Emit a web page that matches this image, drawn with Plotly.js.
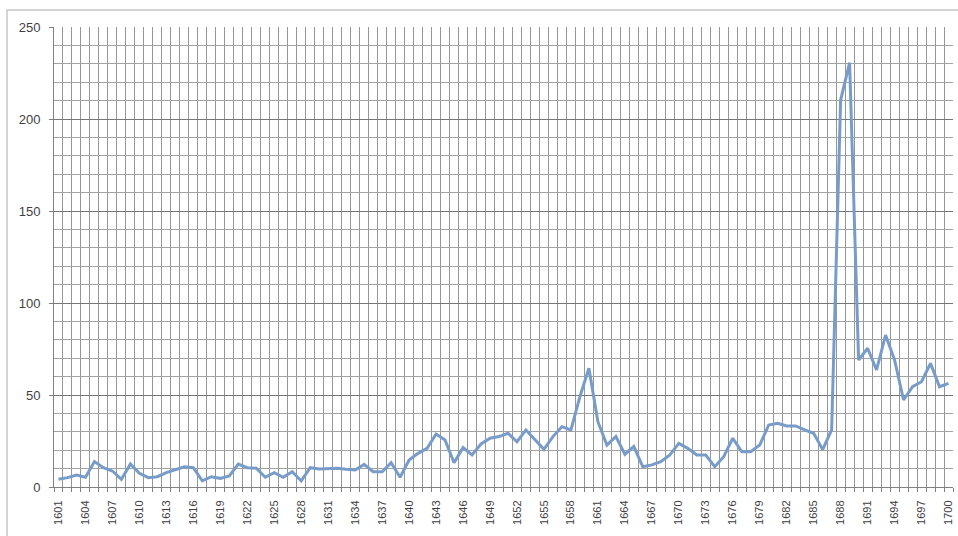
<!DOCTYPE html>
<html>
<head>
<meta charset="utf-8">
<script src="https://cdn.plot.ly/plotly-3.0.1.min.js"></script>
<style>
html,body{margin:0;padding:0;background:#fff;}
#chart{width:958px;height:536px;}
</style>
</head>
<body>
<div id="chart"></div>
<script>
const years = [1601,1602,1603,1604,1605,1606,1607,1608,1609,1610,
1611,1612,1613,1614,1615,1616,1617,1618,1619,1620,
1621,1622,1623,1624,1625,1626,1627,1628,1629,1630,
1631,1632,1633,1634,1635,1636,1637,1638,1639,1640,
1641,1642,1643,1644,1645,1646,1647,1648,1649,1650,
1651,1652,1653,1654,1655,1656,1657,1658,1659,1660,
1661,1662,1663,1664,1665,1666,1667,1668,1669,1670,
1671,1672,1673,1674,1675,1676,1677,1678,1679,1680,
1681,1682,1683,1684,1685,1686,1687,1688,1689,1690,
1691,1692,1693,1694,1695,1696,1697,1698,1699,1700];

const values = [4.2,5.1,6.5,5.3,13.8,10.5,8.7,4.2,12.5,7.4,
5.1,5.6,7.8,9.6,11,10.5,3.3,5.6,4.7,6,
12.5,10.5,10.2,5.3,7.8,5.3,8.3,3.3,10.5,9.8,
10.2,10.2,9.6,9.2,12.3,8.3,8.3,13.2,5.3,14.7,
18.3,21,28.8,25.5,13.2,21.4,17.4,23.4,26.5,27.4,
29.2,24.6,31,25.5,20.5,27.4,32.8,31,49.1,64.5,
35.5,22.8,27.4,17.8,22,11,12,13.8,17.4,23.7,
21,17.4,17.4,11,16.5,26.5,19.2,19.2,22.8,33.7,
34.6,33.2,33.2,31,29.2,20.3,31,210.3,230.6,69,
75.4,63.6,82.6,69,47.3,54.5,57.2,67.2,54.5,56.3];

const yTicks = [0,50,100,150,200,250];

// x tick labels every third year, gridlines at category boundaries
const labelYears = years.filter((y, i) => i % 3 === 0);
const labelText = labelYears.map(String);
const boundaries = years.map(y => y - 0.5).concat([years[years.length-1] + 0.5]);

const trace = {
  x: years,
  y: values,
  type: 'scatter',
  mode: 'lines',
  line: {color: '#789cc9', width: 3},
  hoverinfo: 'x+y'
};

const layout = {
  width: 958,
  height: 536,
  margin: {l: 54, r: 5, t: 27, b: 49},
  paper_bgcolor: '#ffffff',
  plot_bgcolor: '#ffffff',
  showlegend: false,
  font: {family: 'Liberation Sans, Arial, sans-serif', color: '#3f3f3f'},
  xaxis: {
    range: [years[0] - 0.5, years[years.length-1] + 0.5],
    tickmode: 'array',
    tickvals: labelYears,
    ticktext: labelText,
    tickangle: -90,
    tickfont: {size: 11, color: '#3f3f3f'},
    showgrid: false,
    ticks: '',
    ticklabelstandoff: 8,
    showline: true,
    linecolor: '#808080',
    linewidth: 1,
    zeroline: false,
    minor: {
      tickmode: 'array',
      tickvals: boundaries,
      showgrid: true,
      gridcolor: '#969696',
      gridwidth: 1,
      ticks: 'outside',
      ticklen: 4,
      tickcolor: '#808080'
    }
  },
  yaxis: {
    range: [0, 250],
    tickmode: 'array',
    tickvals: yTicks,
    tickfont: {size: 13, color: '#3f3f3f'},
    showgrid: true,
    gridcolor: '#767676',
    gridwidth: 1,
    ticks: 'outside',
    ticklen: 4,
    tickcolor: '#808080',
    ticklabelstandoff: 6,
    showline: true,
    linecolor: '#808080',
    linewidth: 1,
    zeroline: false,
    minor: {
      dtick: 10,
      showgrid: true,
      gridcolor: '#a3a3a3',
      gridwidth: 1
    }
  },
  shapes: [{
    type: 'rect',
    xref: 'paper', yref: 'paper',
    x0: -0.0523, x1: 1.02,
    y0: -0.2, y1: 1.037,
    line: {color: '#d4d4d4', width: 2},
    fillcolor: 'rgba(0,0,0,0)',
    layer: 'below'
  }]
};

Plotly.newPlot('chart', [trace], layout, {displayModeBar: false, staticPlot: true});
</script>
</body>
</html>
